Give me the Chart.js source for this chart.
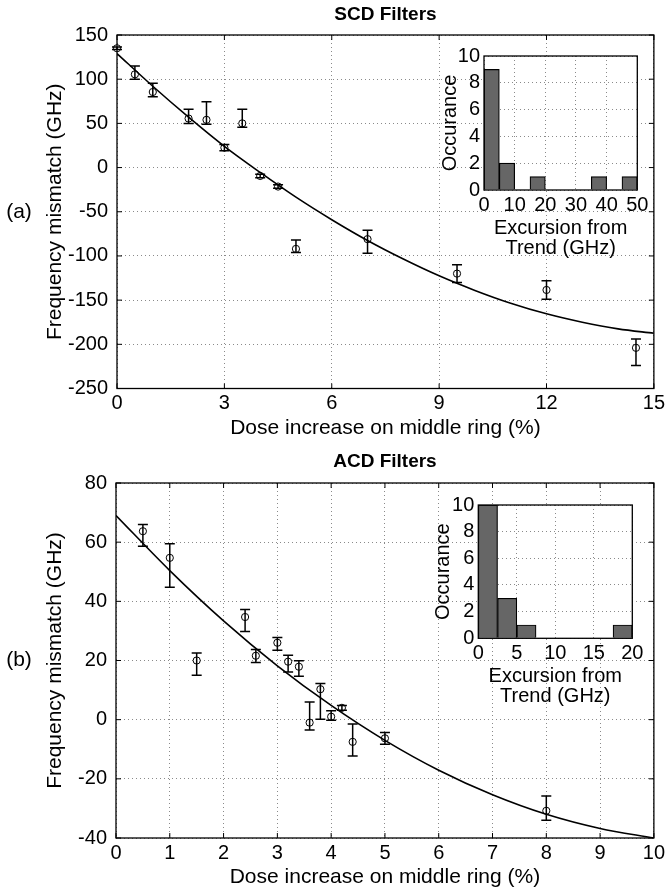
<!DOCTYPE html>
<html>
<head>
<meta charset="utf-8">
<script src="https://cdn.jsdelivr.net/npm/chart.js@4.4.1/dist/chart.umd.min.js"></script>
<style>
  html, body { margin: 0; padding: 0; background: #fff; }
  #wrap { position: relative; width: 668px; height: 890px; }
  canvas { position: absolute; }
</style>
</head>
<body>
<div id="wrap">
  <canvas id="scdChart" width="668" height="445" style="left:0;top:0"></canvas>
  <canvas id="acdChart" width="668" height="445" style="left:0;top:445px"></canvas>
  <canvas id="scdHist" width="240" height="230" style="left:420px;top:40px"></canvas>
  <canvas id="acdHist" width="240" height="230" style="left:420px;top:490px"></canvas>
</div>
<script>
// SCD filters (panel a)
const scdX  = [0, 0.5, 1, 2, 2.5, 3, 3.5, 4, 4.5, 5, 7, 9.5, 12, 14.5];
const scdY  = [135, 105.5, 85.5, 55.5, 54, 22.5, 50, -9.5, -21.5, -92, -81, -120, -138.5, -204];
const scdHi = [136.5, 115, 95.5, 66, 74.5, 26, 66, -7.5, -19.5, -82, -71, -110, -128, -194];
const scdLo = [133.5, 100, 80, 50, 49, 19, 45.5, -11.5, -23.5, -96, -97, -130, -149, -224];
const scdFitX = [0, 1, 2, 3, 4, 5, 6, 7, 8, 9, 10, 11, 12, 13, 14, 15];
const scdFitY = [129, 92, 57, 24, -5.5, -33.5, -59, -82.5, -103.5, -122.5, -139, -153.5, -165.5, -175, -182.5, -187.5];
const scdBins   = [2.5, 7.5, 12.5, 17.5, 22.5, 27.5, 32.5, 37.5, 42.5, 47.5];
const scdCounts = [9, 2, 0, 1, 0, 0, 0, 1, 0, 1];

// ACD filters (panel b)
const acdX  = [0.5, 1, 1.5, 2.4, 2.6, 3, 3.2, 3.4, 3.6, 3.8, 4, 4.2, 4.4, 5, 8];
const acdY  = [63.7, 54.7, 20, 34.7, 21.6, 26, 19.6, 17.9, -1, 10.3, 1, 4, -7.5, -6.3, -30.8];
const acdHi = [66, 59.5, 22.5, 37.2, 23.7, 27.8, 21.8, 19.9, 6, 12.2, 3, 4.8, -1.5, -4.3, -25.8];
const acdLo = [58.6, 44.8, 15, 29.8, 19.3, 23.5, 16.1, 14.7, -3.5, 0.1, -0.2, 3.2, -12.3, -8.3, -34];
const acdFitX = [0, 1, 2, 3, 4, 5, 6, 7, 8, 9, 10];
const acdFitY = [69, 50.4, 33.4, 18.2, 4.8, -7, -17.1, -25.4, -32, -36.8, -40];
const acdBins   = [1.25, 3.75, 6.25, 8.75, 11.25, 13.75, 16.25, 18.75];
const acdCounts = [10, 3, 1, 0, 0, 0, 0, 1];

const FONT = '"Liberation Sans", Arial, Helvetica, sans-serif';
Chart.defaults.font.family = FONT;
Chart.defaults.color = '#000';

const gridStyle = { color: '#8a8a8a', lineWidth: 1, drawTicks: false };
const dotted = { dash: [1, 3] };

// box, inward ticks, title and panel label
const boxPlugin = {
  id: 'box',
  beforeDraw(chart, args, opts) {
    const a = chart.chartArea, ctx = chart.ctx;
    if (opts.fill) {
      ctx.save();
      ctx.fillStyle = opts.fill;
      ctx.fillRect(a.left, a.top, a.right - a.left, a.bottom - a.top);
      ctx.restore();
    }
  },
  afterDraw(chart, args, opts) {
    const a = chart.chartArea, ctx = chart.ctx;
    const xs = chart.scales.x, ys = chart.scales.y;
    ctx.save();
    ctx.strokeStyle = '#000';
    ctx.lineWidth = 1;
    if (opts.tickLen) {
      const t = opts.tickLen;
      ctx.beginPath();
      xs.ticks.forEach((tk) => {
        const px = xs.getPixelForValue(tk.value);
        ctx.moveTo(px, a.bottom); ctx.lineTo(px, a.bottom - t);
        ctx.moveTo(px, a.top); ctx.lineTo(px, a.top + t);
      });
      ys.ticks.forEach((tk) => {
        const py = ys.getPixelForValue(tk.value);
        ctx.moveTo(a.left, py); ctx.lineTo(a.left + t, py);
        ctx.moveTo(a.right, py); ctx.lineTo(a.right - t, py);
      });
      ctx.stroke();
    }
    ctx.lineWidth = 1.3;
    ctx.strokeRect(a.left, a.top, a.right - a.left, a.bottom - a.top);
    ctx.fillStyle = '#000';
    ctx.textBaseline = 'middle';
    if (opts.title) {
      ctx.font = 'bold 19px ' + FONT;
      ctx.textAlign = 'center';
      ctx.fillText(opts.title, (a.left + a.right) / 2, opts.titleY);
    }
    if (opts.panel) {
      ctx.font = '21px ' + FONT;
      ctx.textAlign = 'center';
      ctx.fillText(opts.panel, opts.panelX, (a.top + a.bottom) / 2);
    }
    ctx.restore();
  }
};

// error bars from errLo / errHi arrays
const errorBars = {
  id: 'errorBars',
  afterDatasetsDraw(chart) {
    const ctx = chart.ctx, xs = chart.scales.x, ys = chart.scales.y;
    chart.data.datasets.forEach((ds) => {
      if (!ds.errLo) return;
      ctx.save();
      ctx.strokeStyle = '#000';
      ctx.lineWidth = 1.5;
      ds.data.forEach((p, i) => {
        const px = xs.getPixelForValue(p.x);
        const lo = ys.getPixelForValue(ds.errLo[i]);
        const hi = ys.getPixelForValue(ds.errHi[i]);
        ctx.beginPath();
        ctx.moveTo(px, lo); ctx.lineTo(px, hi);
        ctx.moveTo(px - 5, lo); ctx.lineTo(px + 5, lo);
        ctx.moveTo(px - 5, hi); ctx.lineTo(px + 5, hi);
        ctx.stroke();
      });
      ctx.restore();
    });
  }
};

function mainChart(id, o) {
  return new Chart(document.getElementById(id), {
    type: 'scatter',
    data: {
      datasets: [
        {
          data: o.fitX.map((x, i) => ({ x: x, y: o.fitY[i] })),
          showLine: true, borderColor: '#000', borderWidth: 1.6,
          pointRadius: 0, cubicInterpolationMode: 'monotone'
        },
        {
          data: o.x.map((x, i) => ({ x: x, y: o.y[i] })),
          errLo: o.lo, errHi: o.hi,
          pointStyle: 'circle', pointRadius: 3.6, borderWidth: 1,
          borderColor: '#000', backgroundColor: 'rgba(0,0,0,0)', clip: false
        }
      ]
    },
    options: {
      responsive: false, animation: false,
      layout: { padding: { top: o.padTop, right: o.padRight, left: 0, bottom: 0 } },
      plugins: {
        legend: { display: false }, tooltip: { enabled: false },
        box: { title: o.title, titleY: o.titleY, panel: o.panel, panelX: 19, tickLen: 5 }
      },
      scales: {
        x: {
          type: 'linear', min: o.xMin, max: o.xMax,
          ticks: { stepSize: o.xStep, autoSkip: false, maxRotation: 0, padding: 3, font: { size: 20 } },
          grid: gridStyle, border: Object.assign({ display: false }, dotted),
          title: { display: true, text: 'Dose increase on middle ring (%)', font: { size: 21 }, padding: { top: 0, bottom: o.xTitlePad } },
          afterFit: (s) => { s.height = o.xHeight; }
        },
        y: {
          min: o.yMin, max: o.yMax,
          ticks: { stepSize: o.yStep, autoSkip: false, padding: 9, font: { size: 20 } },
          grid: gridStyle, border: Object.assign({ display: false }, dotted),
          title: { display: true, text: 'Frequency mismatch (GHz)', font: { size: 21 }, padding: { top: 43, bottom: 0 } },
          afterFit: (s) => { s.width = o.yWidth; }
        }
      }
    },
    plugins: [boxPlugin, errorBars]
  });
}

function histChart(id, o) {
  return new Chart(document.getElementById(id), {
    type: 'bar',
    data: {
      datasets: [{
        data: o.bins.map((b, i) => ({ x: b, y: o.counts[i] })),
        backgroundColor: '#666666', borderColor: '#000', borderWidth: 1.2,
        barPercentage: 1, categoryPercentage: 1
      }]
    },
    options: {
      responsive: false, animation: false,
      layout: { padding: { top: o.padTop, right: o.padRight, left: 0, bottom: 0 } },
      plugins: { legend: { display: false }, tooltip: { enabled: false }, box: { fill: '#fff' } },
      scales: {
        x: {
          type: 'linear', min: 0, max: o.xMax, offset: false,
          ticks: { stepSize: o.xStep, autoSkip: false, maxRotation: 0, padding: 3, font: { size: 20 } },
          grid: Object.assign({ offset: false }, gridStyle), border: Object.assign({ display: false }, dotted),
          title: { display: true, text: ['Excursion from', 'Trend (GHz)'], font: { size: 20, lineHeight: 1 }, padding: { top: 0, bottom: o.xTitlePad } },
          afterFit: (s) => { s.height = o.xHeight; }
        },
        y: {
          min: 0, max: 10,
          ticks: { stepSize: 2, autoSkip: false, padding: 4, font: { size: 20, lineHeight: 1 } },
          grid: gridStyle, border: Object.assign({ display: false }, dotted),
          title: { display: true, text: 'Occurance', font: { size: 20, lineHeight: 1 }, padding: { top: o.yTitlePad, bottom: 0 } },
          afterFit: (s) => { s.width = o.yWidth; }
        }
      }
    },
    plugins: [boxPlugin]
  });
}

mainChart('scdChart', {
  x: scdX, y: scdY, lo: scdLo, hi: scdHi, fitX: scdFitX, fitY: scdFitY,
  xMin: 0, xMax: 15, xStep: 3, yMin: -250, yMax: 150, yStep: 50,
  title: 'SCD Filters', titleY: 15, panel: '(a)',
  padTop: 35, padRight: 9, yWidth: 117, xHeight: 56.5, xTitlePad: 4.4
});

mainChart('acdChart', {
  x: acdX, y: acdY, lo: acdLo, hi: acdHi, fitX: acdFitX, fitY: acdFitY,
  xMin: 0, xMax: 10, xStep: 1, yMin: -40, yMax: 80, yStep: 20,
  title: 'ACD Filters', titleY: 17, panel: '(b)',
  padTop: 38, padRight: 10, yWidth: 116, xHeight: 52, xTitlePad: 0
});

histChart('scdHist', {
  bins: scdBins, counts: scdCounts, xMax: 50, xStep: 10,
  padTop: 16, padRight: 22.7, yWidth: 64, xHeight: 80, xTitlePad: 12, yTitlePad: 20
});

histChart('acdHist', {
  bins: acdBins, counts: acdCounts, xMax: 20, xStep: 5,
  padTop: 15, padRight: 27.7, yWidth: 58.3, xHeight: 81.7, xTitlePad: 14, yTitlePad: 13.3
});
</script>
</body>
</html>
